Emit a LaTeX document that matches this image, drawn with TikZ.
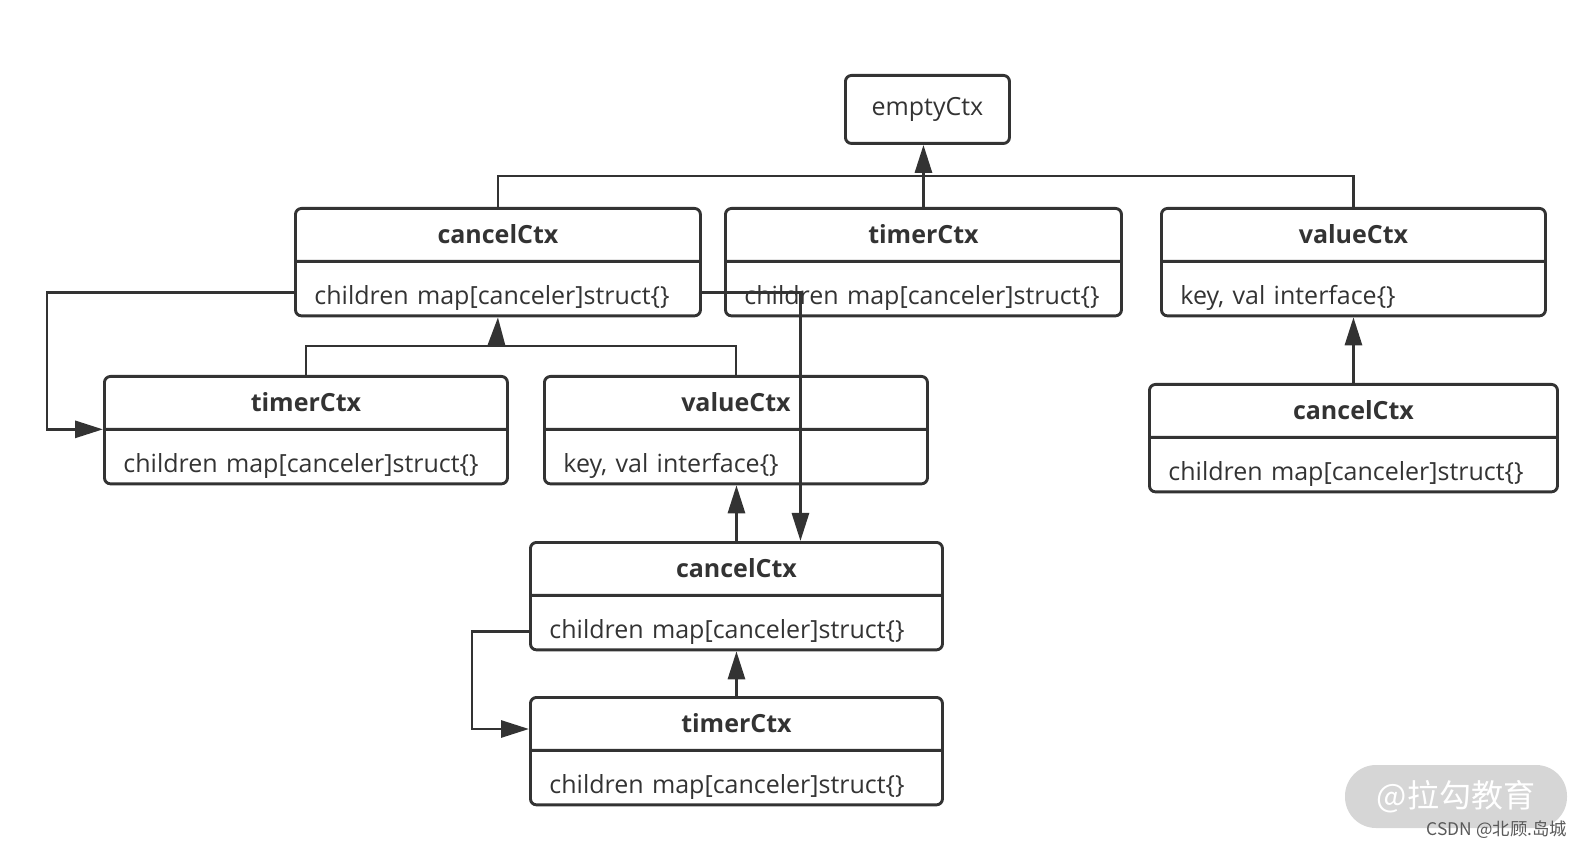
\documentclass[tikz,border=0pt]{standalone}
\usepackage{fontspec}
\setmainfont{Open Sans}
\newfontfamily\cjk{Noto Sans CJK SC}
\usetikzlibrary{shapes.multipart,arrows.meta}
\definecolor{ink}{HTML}{333333}
\newcommand{\ctitle}[1]{\centering\bfseries\rule[-8pt]{0pt}{25pt}#1\par}
\newcommand{\cbody}[1]{\rule[-5pt]{0pt}{25.8pt}#1}

\begin{document}
\begin{tikzpicture}[x=0.5pt, y=-0.5pt, line width=1.45pt, color=ink,
        font=\fontsize{12.5}{14}\selectfont,
        cls/.style = {draw, rounded corners=3pt, rectangle split, rectangle split parts=2,
            inner xsep=9.5pt, inner ysep=0pt, text width=#1, anchor=north west},
        main/.style = {draw, rounded corners=3pt, minimum width=82pt, minimum height=34pt,
            inner sep=0pt, anchor=north west},
        arr/.style = {-{Triangle[length=14pt,width=8.5pt]}}]
        \useasboundingbox (0,0) rectangle (1589,849);

        \node[main] (empty) at (844,74) {emptyCtx};

        \node[cls=183.5pt] (cc1) at (294,207) {\ctitle{cancelCtx}\nodepart{two}\cbody{children map[canceler]struct\{\}}};
        \node[cls=179pt] (tc1) at (724,207) {\ctitle{timerCtx}\nodepart{two}\cbody{children map[canceler]struct\{\}}};
        \node[cls=173pt] (vc1) at (1160,207) {\ctitle{valueCtx}\nodepart{two}\cbody{key, val interface\{\}}};

        \node[cls=182.5pt] (tc2) at (103,375) {\ctitle{timerCtx}\nodepart{two}\cbody{children map[canceler]struct\{\}}};
        \node[cls=172.5pt] (vc2) at (543,375) {\ctitle{valueCtx}\nodepart{two}\cbody{key, val interface\{\}}};
        \node[cls=185pt] (cc3) at (1148,383) {\ctitle{cancelCtx}\nodepart{two}\cbody{children map[canceler]struct\{\}}};

        \node[cls=187pt] (cc2) at (529,541) {\ctitle{cancelCtx}\nodepart{two}\cbody{children map[canceler]struct\{\}}};
        \node[cls=187pt] (tc3) at (529,696) {\ctitle{timerCtx}\nodepart{two}\cbody{children map[canceler]struct\{\}}};

        \coordinate (j1) at (924,176);
        \coordinate (j2) at (496.5,346);

        \draw (cc1.north) |- (j1);
        \draw (vc1.north) |- (j1);
        \draw[arr] (tc1.north) -- (tc1.north |- empty.south);

        \draw (tc2.north) |- (j2);
        \draw (vc2.north) |- (j2);
        \draw[arr] (j2) -- (cc1.south);

        \draw[arr] ([yshift=12.5pt]cc1.south west) -| ([xshift=-28pt]tc2.text split west) -- (tc2.text split west);
        \draw[arr] ([yshift=12.5pt]cc1.south east) -| ([xshift=32pt]cc2.north);

        \draw[arr] (cc2.north) -- (cc2.north |- vc2.south);
        \draw[arr] (tc3.north) -- (tc3.north |- cc2.south);
        \draw[arr] (cc3.north) -- (cc3.north |- vc1.south);
        \draw[arr] ([yshift=10pt]cc2.south west) -| ([xshift=-28.5pt,yshift=-16.5pt]tc3.north west) -- ([yshift=-16.5pt]tc3.north west);

        \node[fill=black!16, rounded corners=15.5pt, minimum width=111pt, minimum height=31.5pt,
            text=white, font=\cjk\fontsize{16}{18}\selectfont] (wm) at (1456,796.5) {@拉勾教育};
        \node[text=black!65, font=\cjk\fontsize{8.7}{10}\selectfont] (csdn) at (1497,830) {CSDN @北顾.岛城};
\end{tikzpicture}
\end{document}
